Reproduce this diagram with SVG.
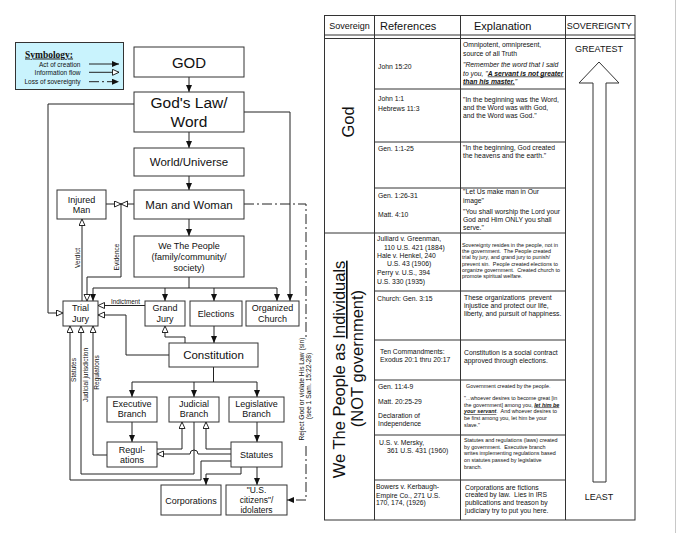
<svg xmlns="http://www.w3.org/2000/svg" width="680" height="543" viewBox="0 0 680 543">
<defs>
<marker id="fa" markerUnits="userSpaceOnUse" markerWidth="8" markerHeight="8" refX="7" refY="3" orient="auto"><path d="M0,0 L7,3 L0,6 z" fill="#111"/></marker>
<marker id="oa" markerUnits="userSpaceOnUse" markerWidth="9" markerHeight="9" refX="7" refY="3.5" orient="auto"><path d="M0.5,0.5 L7,3.5 L0.5,6.5 z" fill="#fff" stroke="#111" stroke-width="0.9"/></marker>
<style>
text{font-family:"Liberation Sans",Arial,sans-serif;fill:#111}
.b{fill:#fff;stroke:#333;stroke-width:1}
.c{fill:none;stroke:#222;stroke-width:1}
.fa{marker-end:url(#fa)}
.oa{marker-end:url(#oa)}
.d{stroke-dasharray:10 3 2 3}
.m{text-anchor:middle}
.s9{font-size:9px}
.s11{font-size:11.5px}
.s15{font-size:15.5px}
.lbl{font-size:6.5px;text-anchor:middle}
.tl{fill:none;stroke:#333;stroke-width:1}
.ref{font-size:6.8px}
.ex{font-size:6.8px}
.sm{font-size:5.4px}
.it{font-style:italic}
.bu{font-weight:bold;font-style:italic;text-decoration:underline}
.big{font-size:16.5px;text-anchor:middle}
</style>
</defs>
<rect x="0" y="0" width="680" height="543" fill="#fff"/>
<line x1="675.5" y1="0" x2="675.5" y2="533" stroke="#c8c8c8" stroke-width="1"/>

<g id="symbology">
<rect x="15.5" y="42.5" width="108" height="47" fill="#c9f3fd" stroke="#333"/>
<text x="25" y="57.5" style="font-family:'Liberation Serif',serif;font-weight:bold;font-size:9.5px;text-decoration:underline">Symbology:</text>
<text x="80.5" y="66.5" style="font-size:6.5px;text-anchor:end">Act of creation</text>
<text x="80.5" y="74.8" style="font-size:6.5px;text-anchor:end">Information flow</text>
<text x="80.5" y="84" style="font-size:6.5px;text-anchor:end">Loss of sovereignty</text>
<path class="c fa" d="M89,64 H119"/>
<path class="c oa" d="M89,72.3 H119"/>
<path class="c fa d" d="M89,81.7 H119"/>
</g>

<g id="connectors">
<path class="c fa" d="M189,77 V92"/>
<path class="c fa" d="M189,132 V148"/>
<path class="c fa" d="M189,176 V190"/>
<path class="c fa" d="M189,219 V236"/>
<path class="c oa" d="M134,104 H48 V313 H63"/>
<path class="c fa" d="M244,112 H290 V301"/>
<path class="c" d="M189,277 V288 M93,288 H277"/>
<path class="c fa" d="M93,288 V301"/>
<path class="c fa" d="M165,288 V301"/>
<path class="c fa" d="M214,288 V301"/>
<path class="c fa" d="M277,288 V301"/>
<path class="c oa" d="M106,204 H121"/>
<path class="c oa" d="M134,204 H121"/>
<path class="c oa" d="M121,204 V277 H87 V301"/>
<path class="c oa" d="M82,301 V219"/>
<path class="c oa" d="M145,305.5 H98"/>
<path class="c oa" d="M169,355 H126 V315 H98"/>
<path class="c oa" d="M185,343 V337 H165 V326"/>
<path class="c fa" d="M214,326 V343"/>
<path class="c" d="M213.5,367 V382 M132,382 H257"/>
<path class="c fa" d="M132,382 V397"/>
<path class="c fa" d="M194,382 V397"/>
<path class="c fa" d="M257,382 V397"/>
<path class="c fa" d="M132,422 V442"/>
<path class="c fa" d="M257,422 V442"/>
<path class="c oa" d="M157,449 H182 V422"/>
<path class="c oa" d="M231,449 H206 V422"/>
<path class="c oa" d="M231,454 H198 A4,4 0 0 0 190,454 H157"/>
<path class="c oa" d="M194,422 V474 H81 V326"/>
<path class="c oa" d="M107,455 H93 V326"/>
<path class="c oa" d="M231,461 H201 V480 H70 V326"/>
<path class="c fa" d="M241,467 V474 H206 V485"/>
<path class="c fa" d="M257,467 V485"/>
<path class="c d" d="M244,204 H306 V337"/>
<path class="c fa d" d="M306,446 V500 H287"/>
<text class="lbl" transform="translate(79.5,258) rotate(-90)">Verdict</text>
<text class="lbl" transform="translate(118.5,257) rotate(-90)">Evidence</text>
<text class="lbl" x="125.5" y="303.5" style="font-size:6.3px">Indictment</text>
<text class="lbl" transform="translate(76,370) rotate(-90)">Statutes</text>
<text class="lbl" transform="translate(87.7,375) rotate(-90)">Judicial jurisdiction</text>
<text class="lbl" transform="translate(99.4,372.5) rotate(-90)">Regulations</text>
<text class="lbl" style="font-size:6.7px" transform="translate(304,389) rotate(-90)">Reject God or violate His Law (sin)</text>
<text class="lbl" style="font-size:6.7px" transform="translate(311,386) rotate(-90)">(see 1 Sam. 15:22-28)</text>
</g>

<g id="god"><rect class="b" x="134" y="47" width="110" height="30"/><text class="m" x="189" y="67.5" style="font-size:15px">GOD</text></g>
<g id="law"><rect class="b" x="134" y="92" width="110" height="40"/><text class="m s15" x="189" y="108">God's Law/</text><text class="m s15" x="189" y="126.5">Word</text></g>
<g id="world"><rect class="b" x="134" y="148" width="110" height="28"/><text class="m s11" x="189" y="166">World/Universe</text></g>
<g id="man-woman"><rect class="b" x="134" y="190" width="110" height="29"/><text class="m s11" x="189" y="209">Man and Woman</text></g>
<g id="injured-man"><rect class="b" x="57" y="190" width="49" height="29"/><text class="m s9" x="81.5" y="202.5">Injured</text><text class="m s9" x="81.5" y="213">Man</text></g>
<g id="we-the-people"><rect class="b" x="134" y="236" width="110" height="41"/><text class="m s9" x="189" y="249.3">We The People</text><text class="m s9" x="189" y="260">(family/community/</text><text class="m s9" x="189" y="270.5">society)</text></g>
<g id="trial-jury"><rect class="b" x="63" y="301" width="35" height="25"/><text class="m s9" x="80.5" y="311">Trial</text><text class="m s9" x="80.5" y="321.5">Jury</text></g>
<g id="grand-jury"><rect class="b" x="145" y="301" width="40" height="25"/><text class="m s9" x="165" y="311">Grand</text><text class="m s9" x="165" y="321.5">Jury</text></g>
<g id="elections"><rect class="b" x="190" y="301" width="52" height="25"/><text class="m s9" x="216" y="316.5">Elections</text></g>
<g id="organized-church"><rect class="b" x="246" y="301" width="53" height="25"/><text class="m s9" x="272.5" y="311">Organized</text><text class="m s9" x="272.5" y="321.5">Church</text></g>
<g id="constitution"><rect class="b" x="169" y="343" width="89" height="24"/><text class="m s11" x="213.5" y="359">Constitution</text></g>
<g id="executive"><rect class="b" x="107" y="397" width="50" height="25"/><text class="m s9" x="132" y="406.5">Executive</text><text class="m s9" x="132" y="417">Branch</text></g>
<g id="judicial"><rect class="b" x="169" y="397" width="50" height="25"/><text class="m s9" x="194" y="406.5">Judicial</text><text class="m s9" x="194" y="417">Branch</text></g>
<g id="legislative"><rect class="b" x="229" y="397" width="55" height="25"/><text class="m s9" x="256.5" y="406.5">Legislative</text><text class="m s9" x="256.5" y="417">Branch</text></g>
<g id="regulations"><rect class="b" x="107" y="442" width="50" height="25"/><text class="m s9" x="132" y="452.5">Regul-</text><text class="m s9" x="132" y="462.5">ations</text></g>
<g id="statutes"><rect class="b" x="231" y="442" width="51" height="25"/><text class="m s9" x="256.5" y="457.5">Statutes</text></g>
<g id="corporations"><rect class="b" x="161" y="485" width="60" height="30"/><text class="m s9" x="191" y="504">Corporations</text></g>
<g id="us-citizens"><rect class="b" x="226" y="485" width="61" height="30"/><text class="m" x="256.5" y="493" style="font-size:8.5px">"U.S.</text><text class="m" x="256.5" y="503" style="font-size:8.5px">citizens"/</text><text class="m" x="256.5" y="512.5" style="font-size:8.5px">idolaters</text></g>

<g id="table">
<rect class="tl" x="324.5" y="15.5" width="310.5" height="504.5"/>
<path class="tl" d="M324.5,35 H635 M324.5,38.5 H635 M374.5,15.5 V520 M460.5,15.5 V520 M565.5,15.5 V520 M374.5,89 H565.5 M374.5,142 H565.5 M374.5,188 H565.5 M324.5,233 H565.5 M374.5,291 H565.5 M374.5,340 H565.5 M374.5,380 H565.5 M374.5,435 H565.5 M374.5,480 H565.5"/>
<text x="329.3" y="29.2" class="s9">Sovereign</text>
<text x="380" y="30" style="font-size:11px">References</text>
<text x="474" y="30" style="font-size:11px">Explanation</text>
<text x="599.2" y="29.2" class="s9 m">SOVEREIGNTY</text>
<text class="big" transform="translate(353.5,122) rotate(-90)">God</text>
<text class="big" transform="translate(345,369.5) rotate(-90)">We The People as <tspan style="text-decoration:underline">Individuals</tspan></text>
<text class="big" transform="translate(363,358.5) rotate(-90)">(NOT government)</text>

<text class="ref" x="378" y="68.5">John 15:20</text>
<text class="ex" x="463" y="47">Omnipotent, omnipresent,</text>
<text class="ex" x="463" y="55.5">source of all Truth</text>
<text class="ex it" x="463" y="66.5">"Remember the word that I said</text>
<text class="ex it" x="463" y="75.5" xml:space="preserve">to you, "<tspan class="bu">A servant is not greater</tspan></text>
<text class="ex it" x="463" y="83.5"><tspan class="bu">than his master.</tspan>"</text>

<text class="ref" x="378" y="101">John 1:1</text>
<text class="ref" x="378" y="111">Hebrews 11:3</text>
<text class="ex" x="463" y="102">"In the beginning was the Word,</text>
<text class="ex" x="463" y="110">and the Word was with God,</text>
<text class="ex" x="463" y="118">and the Word was God."</text>

<text class="ref" x="378" y="151">Gen. 1:1-25</text>
<text class="ex" x="463" y="149.5">"In the beginning, God created</text>
<text class="ex" x="463" y="157.5">the heavens and the earth."</text>

<text class="ref" x="378" y="197.5">Gen. 1:26-31</text>
<text class="ref" x="378" y="216.5">Matt. 4:10</text>
<text class="ex" x="463" y="194">"Let Us make man in Our</text>
<text class="ex" x="463" y="202.5">image"</text>
<text class="ex" x="463" y="214">"You shall worship the Lord your</text>
<text class="ex" x="463" y="222">God and Him ONLY you shall</text>
<text class="ex" x="463" y="230">serve."</text>

<text class="ref" x="377" y="241">Julliard v. Greenman,</text>
<text class="ref" x="384" y="249.5">110 U.S. 421 (1884)</text>
<text class="ref" x="377" y="257.5">Hale v. Henkel, 240</text>
<text class="ref" x="387" y="266">U.S. 43 (1906)</text>
<text class="ref" x="377" y="275">Perry v. U.S., 394</text>
<text class="ref" x="377" y="283.5">U.S. 330 (1935)</text>
<text class="sm" x="462" y="246.5">Sovereignty resides in the people, not in</text>
<text class="sm" x="462" y="252.9" xml:space="preserve">the government.  The People created</text>
<text class="sm" x="462" y="259.2">trial by jury, and grand jury to punish/</text>
<text class="sm" x="462" y="265.6" xml:space="preserve">prevent sin.  People created elections to</text>
<text class="sm" x="462" y="271.9" xml:space="preserve">organize government.  Created church to</text>
<text class="sm" x="462" y="278.3">promote spiritual welfare.</text>

<text class="ref" x="377" y="301">Church: Gen. 3:15</text>
<text class="ex" x="464" y="299.5" xml:space="preserve">These organizations  prevent</text>
<text class="ex" x="464" y="308">injustice and protect our life,</text>
<text class="ex" x="464" y="315.5">liberty, and pursuit of happiness.</text>

<text class="ref" x="380" y="353.5">Ten Commandments:</text>
<text class="ref" x="380" y="361.5">Exodus 20:1 thru 20:17</text>
<text class="ex" x="464" y="355">Constitution is a social contract</text>
<text class="ex" x="464" y="363">approved through elections.</text>

<text class="ref" x="378" y="389">Gen. 11:4-9</text>
<text class="ref" x="378" y="403.5">Matt. 20:25-29</text>
<text class="ref" x="378" y="417.5">Declaration of</text>
<text class="ref" x="378" y="425.5">Independence</text>
<text class="sm" x="466" y="387.5">Government created by the people.</text>
<text class="sm" x="464" y="399.5">"...whoever desires to become great [in</text>
<text class="sm" x="464" y="406.5" xml:space="preserve">the government] among you, <tspan class="bu">let him be</tspan></text>
<text class="sm" x="464" y="413.3" xml:space="preserve"><tspan class="bu">your servant</tspan>.  And whoever desires to</text>
<text class="sm" x="464" y="420">be first among you, let him be your</text>
<text class="sm" x="464" y="426.8">slave."</text>

<text class="ref" x="379" y="445">U.S. v. Mersky,</text>
<text class="ref" x="387" y="452.5">361 U.S. 431 (1960)</text>
<text class="sm" x="464" y="442">Statutes and regulations (laws) created</text>
<text class="sm" x="464" y="448.7" xml:space="preserve">by government.  Executive branch</text>
<text class="sm" x="464" y="455.3">writes implementing regulations based</text>
<text class="sm" x="464" y="462">on statutes passed by legislative</text>
<text class="sm" x="464" y="468.7">branch.</text>

<text class="ref" x="376" y="489">Bowers v. Kerbaugh-</text>
<text class="ref" x="376" y="497.5">Empire Co., 271 U.S.</text>
<text class="ref" x="376" y="505">170, 174, (1926)</text>
<text class="ex" x="465" y="489.5">Corporations are fictions</text>
<text class="ex" x="465" y="497" xml:space="preserve">created by law.  Lies in IRS</text>
<text class="ex" x="465" y="505">publications and treason by</text>
<text class="ex" x="465" y="512.5">judiciary try to put you here.</text>

<text class="s9 m" x="599" y="51.5">GREATEST</text>
<polygon points="599,62 619,83 606,83 606,482 593,482 593,83 579,83" fill="#fff" stroke="#333" stroke-width="1"/>
<text class="s9 m" x="599" y="499.5">LEAST</text>
</g>
</svg>
